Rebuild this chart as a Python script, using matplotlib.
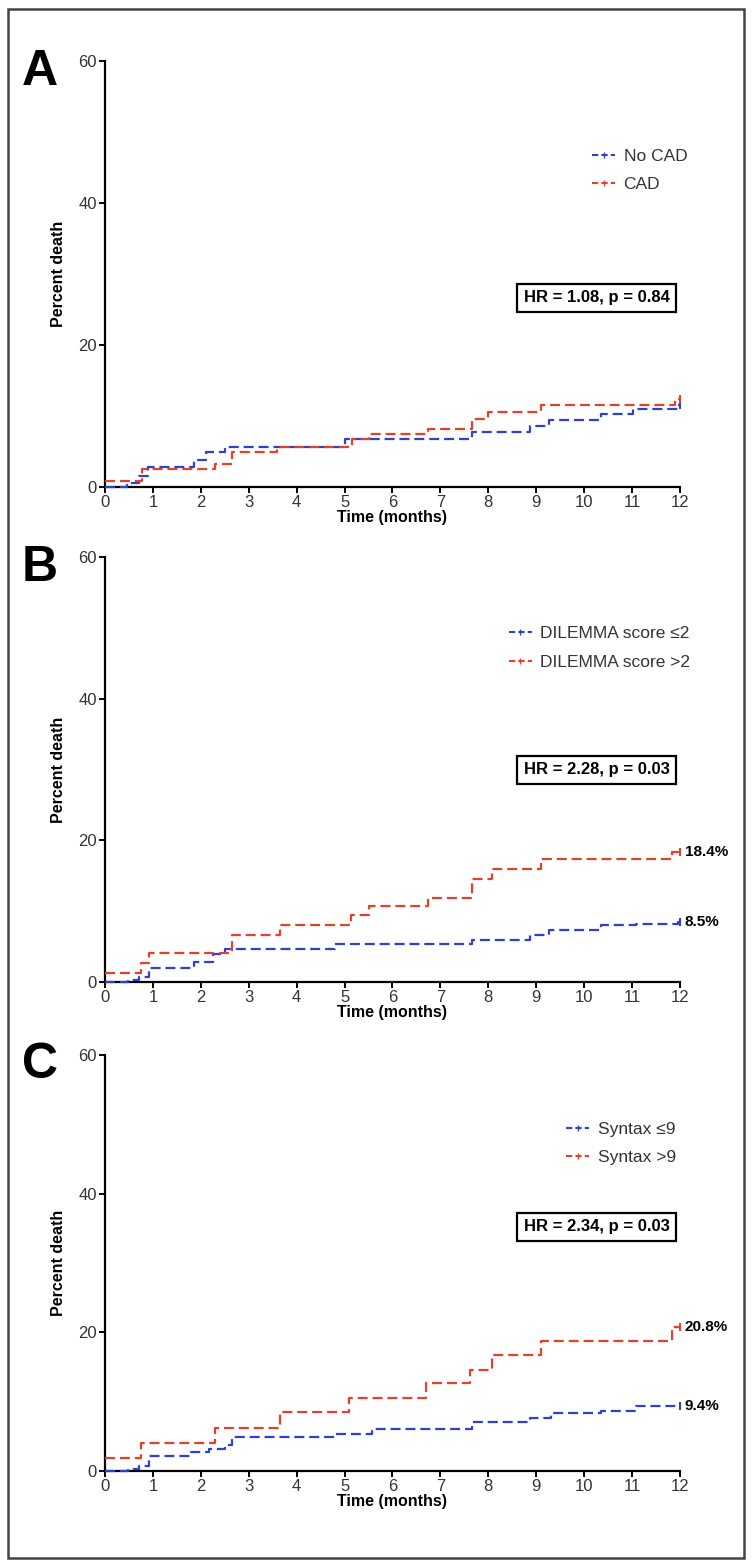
import matplotlib
matplotlib.use('Agg')
import matplotlib.pyplot as plt
from matplotlib.lines import Line2D
from matplotlib.patches import Rectangle

plt.rcParams['font.family'] = ['Liberation Sans', 'DejaVu Sans']

BLUE = '#2f3fd0'
RED = '#e5402c'

# ---- data (months, percent death) ----
a_blue_t = [0, 0.45, 0.7, 0.9, 1.85, 2.1, 2.5, 5.0, 7.66, 8.87, 9.27, 10.35, 11.03, 11.95, 12]
a_blue_y = [0, 0.5, 1.6, 2.8, 3.8, 4.9, 5.7, 6.7, 7.7, 8.6, 9.5, 10.3, 11.0, 11.6, 11.6]
a_red_t = [0, 0.78, 2.3, 2.65, 3.6, 5.15, 5.5, 6.75, 7.66, 8.0, 9.1, 11.9, 12]
a_red_y = [0.8, 2.5, 3.3, 4.9, 5.7, 6.7, 7.5, 8.2, 9.6, 10.5, 11.5, 12.4, 12.4]

b_blue_t = [0, 0.48, 0.72, 0.92, 1.85, 2.25, 2.5, 4.8, 7.66, 8.87, 9.27, 10.35, 11.08, 11.95, 12]
b_blue_y = [0, 0.3, 0.7, 2.0, 2.8, 3.9, 4.7, 5.3, 6.0, 6.6, 7.3, 8.0, 8.2, 8.5, 8.5]
b_red_t = [0, 0.75, 0.92, 2.65, 3.65, 5.14, 5.5, 6.74, 7.66, 8.07, 9.1, 11.84, 12]
b_red_y = [1.3, 2.7, 4.1, 6.6, 8.0, 9.4, 10.7, 11.9, 14.5, 15.9, 17.3, 18.4, 18.4]

c_blue_t = [0, 0.48, 0.72, 0.92, 1.8, 2.17, 2.5, 2.66, 4.8, 5.58, 7.66, 8.87, 9.31, 10.35, 11.08, 12]
c_blue_y = [0, 0.3, 0.7, 2.1, 2.7, 3.2, 3.7, 4.9, 5.4, 6.0, 7.1, 7.6, 8.3, 8.6, 9.4, 9.4]
c_red_t = [0, 0.76, 2.29, 3.65, 5.1, 6.7, 7.62, 8.07, 9.1, 11.84, 12]
c_red_y = [1.9, 4.1, 6.25, 8.5, 10.5, 12.7, 14.6, 16.7, 18.8, 20.8, 20.8]

legend_a = ['No CAD', 'CAD']
legend_b = ['DILEMMA score ≤2', 'DILEMMA score >2']
legend_c = ['Syntax ≤9', 'Syntax >9']
hr_a = 'HR = 1.08, p = 0.84'
hr_b = 'HR = 2.28, p = 0.03'
hr_c = 'HR = 2.34, p = 0.03'
end_b = ['8.5%', '18.4%']
end_c = ['9.4%', '20.8%']

fig = plt.figure(figsize=(7.52, 15.66), dpi=100)
fig.patch.set_facecolor('white')
fig.patches.append(Rectangle((0.011, 0.005), 0.978, 0.989, transform=fig.transFigure,
                             fill=False, edgecolor='#444444', linewidth=1.8))


def panel(rect, letter, blue, red, labels, hr, hr_y, leg_anchor, ends=None):
    ax = fig.add_axes(rect)
    for (t, y), c in zip([blue, red], [BLUE, RED]):
        ax.step(t, y, where='post', color=c, linestyle=(0, (4.5, 2.2)), linewidth=1.6, clip_on=False, zorder=3)
        ax.plot(t[-1], y[-1], marker='|', color=c, markersize=6, markeredgewidth=1.5, clip_on=False, zorder=3)
    ax.set_xlim(0, 12)
    ax.set_ylim(0, 60)
    ax.set_xticks(range(13))
    ax.set_yticks([0, 20, 40, 60])
    for s in ['top', 'right']:
        ax.spines[s].set_visible(False)
    for s in ['left', 'bottom']:
        ax.spines[s].set_linewidth(1.6)
    ax.tick_params(direction='out', length=4, width=1.4, labelsize=12, labelcolor='#333333', pad=2)
    ax.set_xlabel('Time (months)', fontsize=11.5, fontweight='bold', labelpad=0)
    ax.set_ylabel('Percent death', fontsize=11.5, fontweight='bold', labelpad=9)
    ax.text(-0.113, 0.975, letter, transform=ax.transAxes, fontsize=36, fontweight='bold', va='center', ha='center')
    handles = [Line2D([], [], color=c, linestyle=(0, (3, 1.5)), linewidth=1.5, marker='|', markersize=5)
               for c in [BLUE, RED]]
    ax.legend(handles, labels, loc='center right', bbox_to_anchor=leg_anchor, frameon=False,
              fontsize=12.5, handlelength=1.3, handletextpad=0.5, labelspacing=0.75, labelcolor='#333333')
    ax.text(0.855, hr_y, hr, transform=ax.transAxes, ha='center', va='center', fontsize=12,
            fontweight='bold', bbox=dict(boxstyle='square,pad=0.38', facecolor='white', edgecolor='black', linewidth=1.6))
    if ends:
        ax.text(12.1, blue[1][-1], ends[0], ha='left', va='center', fontsize=11, fontweight='bold')
        ax.text(12.1, red[1][-1], ends[1], ha='left', va='center', fontsize=11, fontweight='bold')
    return ax


panel([0.1396, 0.689, 0.7646, 0.272], 'A', (a_blue_t, a_blue_y), (a_red_t, a_red_y),
      legend_a, hr_a, 0.444, (1.04, 0.744))
panel([0.1396, 0.3729, 0.7646, 0.2714], 'B', (b_blue_t, b_blue_y), (b_red_t, b_red_y),
      legend_b, hr_b, 0.499, (1.045, 0.786), end_b)
panel([0.1396, 0.0607, 0.7646, 0.2656], 'C', (c_blue_t, c_blue_y), (c_red_t, c_red_y),
      legend_c, hr_c, 0.587, (1.02, 0.788), end_c)

fig.savefig('out.png', dpi=100, facecolor='white')
